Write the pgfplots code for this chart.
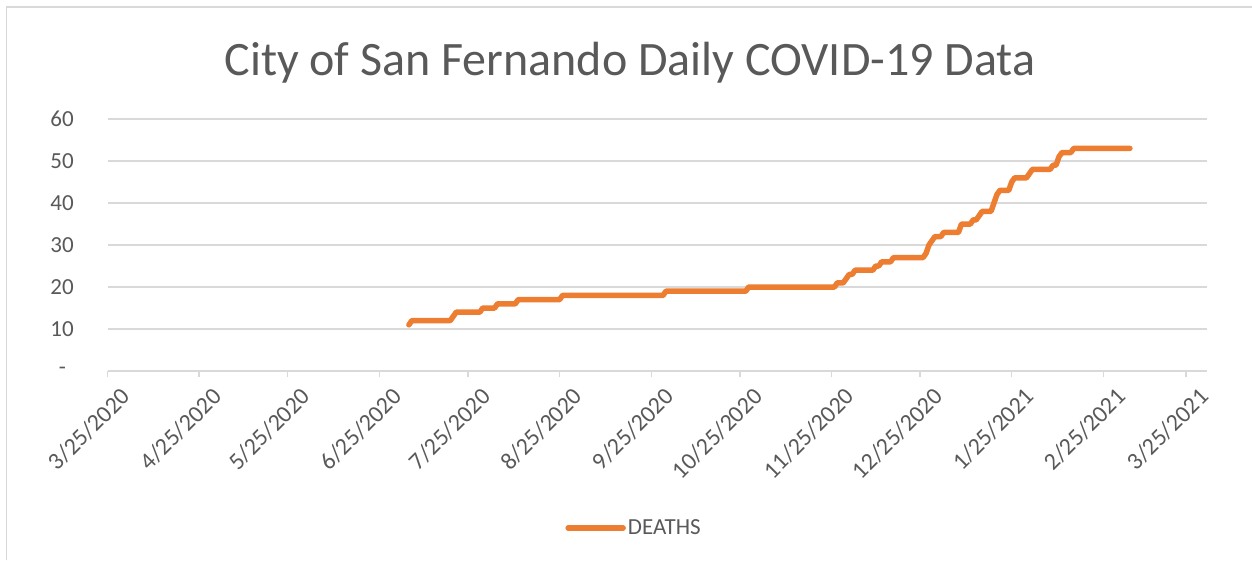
\documentclass[border=0pt]{standalone}
\usepackage{pgfplots}
\pgfplotsset{compat=1.18}
\usepackage{fontspec}
\setmainfont{Carlito}
\definecolor{orng}{HTML}{ED7D31}
\definecolor{gridg}{HTML}{D9D9D9}
\definecolor{txt}{HTML}{595959}
\begin{document}
\begin{tikzpicture}[x=1pt,y=1pt]
\useasboundingbox (0,0) rectangle (1252,560);
\draw[gridg, line width=1.3pt] (6.5,0) -- (6.5,553) -- (1252,553);
\node[text=txt, font=\fontsize{48}{56}\selectfont, anchor=base] at (630,484) {City of San Fernando Daily COVID-19 Data};
\begin{axis}[at={(107.5pt,189pt)}, anchor=south west, scale only axis,
  width=1099.2pt, height=252pt,
  xmin=0, xmax=372, ymin=0, ymax=60,
  axis line style={draw=none},
  ymajorgrids=true,
  major grid style={gridg, line width=1.3pt},
  ytick={0,10,20,30,40,50,60},
  yticklabels={{-\kern8pt},10,20,30,40,50,60},
  ytick style={draw=none},
  xtick={0,31,61,92,122,153,184,214,245,275,306,337,365},
  xticklabels={3/25/2020,4/25/2020,5/25/2020,6/25/2020,7/25/2020,8/25/2020,9/25/2020,10/25/2020,11/25/2020,12/25/2020,1/25/2021,2/25/2021,3/25/2021},
  xtick pos=bottom, tick align=outside, major tick length=6pt,
  xtick style={gridg, line width=1.3pt},
  /pgf/number format/assume math mode=true,
  yticklabel style={anchor=east, inner sep=0pt, xshift=-27.5pt, text=txt, font=\fontsize{23}{27}\selectfont},
  xticklabel style={rotate=45, anchor=north east, inner sep=0pt, yshift=-15pt, xshift=2pt, text=txt, font=\fontsize{24}{28}\selectfont},
  legend style={at={(0.479,-0.623)}, anchor=center, draw=none, fill=none, text=txt, font=\fontsize{23}{27}\selectfont},
  legend image code/.code={\draw[#1, line cap=round] (0pt,0pt) -- (55pt,0pt);},
  clip=false,
]
\addplot[orng, line width=5.5pt, line cap=round, line join=round] coordinates {
(102,11) (103,12) (116,12) (117,13) (118,14) (126,14) (127,15) (131,15) (132,16)
(138,16) (139,17) (153,17) (154,18) (188,18) (189,19) (216,19) (217,20) (246,20)
(247,21) (249,21) (250,22) (251,23) (252,23) (253,24) (259,24) (260,25) (261,25)
(262,26) (265,26) (266,27) (276,27) (277,28) (278,30) (279,31) (280,32) (282,32)
(283,33) (288,33) (289,35) (291,35) (292,35) (293,36) (294,36) (295,37) (296,38)
(299,38) (300,40) (301,42) (302,43) (305,43) (306,45) (307,46) (311,46) (312,47)
(313,48) (319,48) (320,49) (321,49) (322,51) (323,52) (326,52) (327,53) (346,53)
};
\addlegendentry{DEATHS}
\end{axis}
\end{tikzpicture}
\end{document}
